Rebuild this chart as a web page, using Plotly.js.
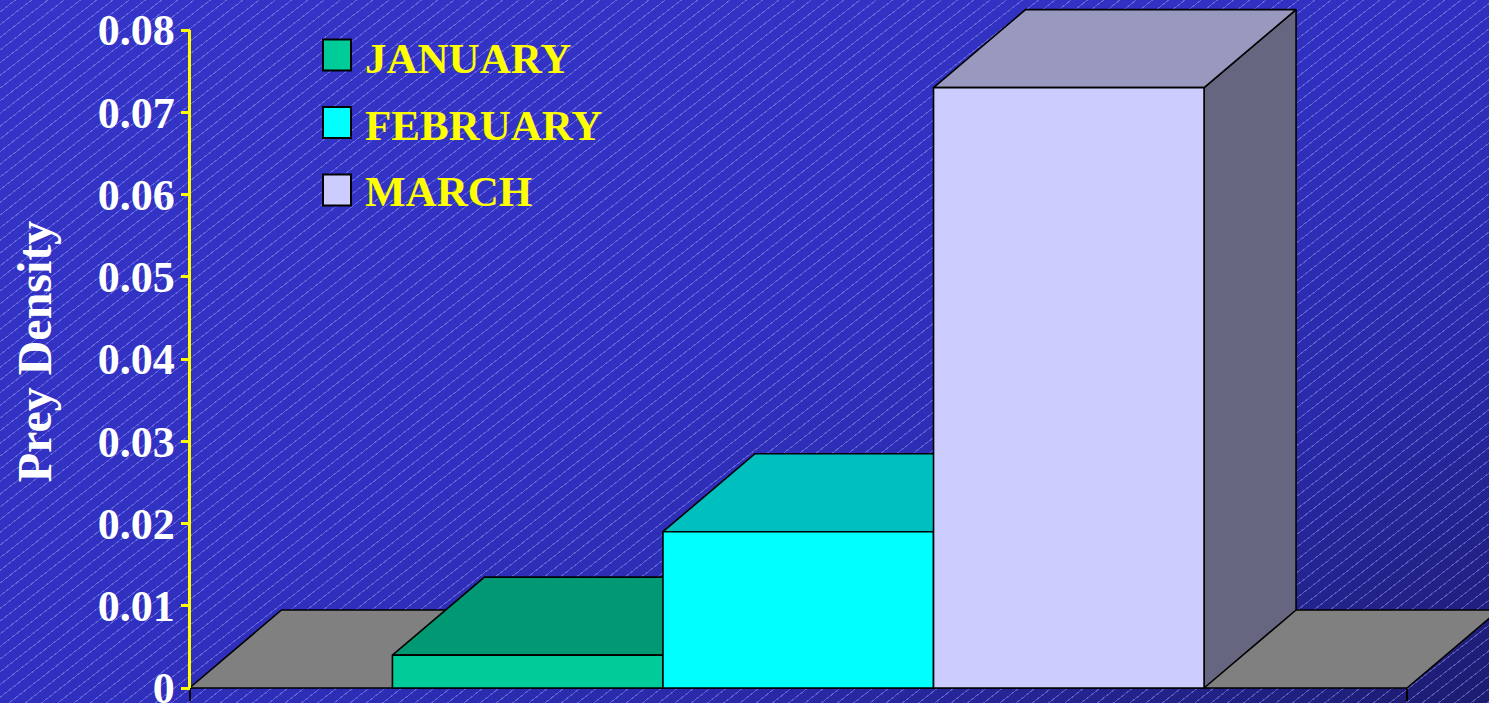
<!DOCTYPE html>
<html>
<head>
<meta charset="utf-8">
<script src="https://cdn.plot.ly/plotly-3.0.1.min.js"></script>
<style>
html, body { margin: 0; padding: 0; overflow: hidden; }
#chart {
  width: 1489px; height: 703px;
  background:
    repeating-linear-gradient(142deg, rgba(0,0,0,0) 0px, rgba(0,0,0,0) 9px, rgba(175,175,255,0.40) 9px, rgba(175,175,255,0.40) 10px),
    linear-gradient(to bottom right, #3434C8 0%, #3030C0 50%, #2929A8 75%, #1C1C70 100%);
}
</style>
</head>
<body>
<div id="chart"></div>
<script>
// ---------------- data ----------------
const months = ['JANUARY', 'FEBRUARY', 'MARCH'];
const preyDensity = [0.004, 0.019, 0.073];
const yTickVals = [0, 0.01, 0.02, 0.03, 0.04, 0.05, 0.06, 0.07, 0.08];
const yTickText = ['0', '0.01', '0.02', '0.03', '0.04', '0.05', '0.06', '0.07', '0.08'];
const yTitle = 'Prey Density';

// ---------------- style / geometry ----------------
const W = 1489, H = 703, L = 183;
const frontColors = ['#00CC99', '#00FFFF', '#CCCCFF'];
const FONT = 'Liberation Serif, Times New Roman, serif';
function shade(hex, f) {
  const n = parseInt(hex.slice(1), 16);
  const r = Math.round(((n >> 16) & 255) * f), g = Math.round(((n >> 8) & 255) * f), b = Math.round((n & 255) * f);
  return 'rgb(' + r + ',' + g + ',' + b + ')';
}
const GAP = 0.75, BAR = 1;
const TOTAL = 2 * GAP + months.length * BAR;
const X0_PX = 189.5, ZERO_PX = 688;
const PX_PER_X = (1407 - X0_PX) / TOTAL;
const PX_PER_Y = (ZERO_PX - 30) / yTickVals[yTickVals.length - 1];
const DX = 92 / PX_PER_X, DY = 78 / PX_PER_Y;

function poly(xs, ys, color) {
  return {
    type: 'scatter', mode: 'lines', x: xs.concat([xs[0]]), y: ys.concat([ys[0]]),
    fill: 'toself', fillcolor: color, line: { color: '#000', width: 1.6 },
    hoverinfo: 'skip', showlegend: false
  };
}

const traces = [];
// floor
traces.push(poly([0, TOTAL, TOTAL + DX, DX], [0, 0, DY, DY], '#808080'));
// bars
months.forEach((m, i) => {
  const v = preyDensity[i];
  const x0 = GAP + i * BAR, x1 = x0 + BAR;
  traces.push(poly([x1, x1 + DX, x1 + DX, x1], [0, DY, v + DY, v], shade(frontColors[i], 0.5)));
  traces.push(poly([x0, x1, x1 + DX, x0 + DX], [v, v, v + DY, v + DY], shade(frontColors[i], 0.75)));
  const front = poly([x0, x1, x1, x0], [0, 0, v, v], frontColors[i]);
  front.name = m;
  traces.push(front);
});

const px2x = p => (p - L) / (W - L);
const py2y = p => 1 - p / H;

const shapes = [
  { type: 'line', xref: 'x', yref: 'y', x0: 0, x1: 0, y0: 0, y1: yTickVals[yTickVals.length - 1],
    line: { color: '#FFFF00', width: 3 } }
];
const annotations = [];
const legSq = [55, 122.5, 190];
const legTx = [58, 125, 191.5];
months.forEach((m, i) => {
  shapes.push({ type: 'rect', xref: 'paper', yref: 'paper',
    x0: px2x(323), x1: px2x(351), y0: py2y(legSq[i] + 15.5), y1: py2y(legSq[i] - 15.5),
    fillcolor: frontColors[i], line: { color: '#000', width: 2 } });
  annotations.push({ xref: 'paper', yref: 'paper', x: px2x(363), y: py2y(legTx[i]),
    xanchor: 'left', yanchor: 'middle', showarrow: false, text: m,
    font: { family: FONT, size: 43, color: '#FFFF00', weight: 'bold' } });
});

const layout = {
  width: W, height: H,
  margin: { l: L, r: 0, t: 0, b: 0 },
  paper_bgcolor: 'rgba(0,0,0,0)', plot_bgcolor: 'rgba(0,0,0,0)',
  showlegend: false,
  xaxis: {
    range: [(L - X0_PX) / PX_PER_X, (W - X0_PX) / PX_PER_X],
    anchor: 'free', position: (H - ZERO_PX) / H,
    tickvals: [0, TOTAL], ticks: 'outside', ticklen: 12, tickwidth: 2, tickcolor: '#000',
    showticklabels: false, showgrid: false, zeroline: false, showline: false
  },
  yaxis: {
    range: [-(H - ZERO_PX) / PX_PER_Y, ZERO_PX / PX_PER_Y],
    anchor: 'free', position: (X0_PX - L) / (W - L),
    tickvals: yTickVals, ticktext: yTickText,
    ticks: 'outside', ticklen: 9, tickwidth: 3, tickcolor: '#FFFF00',
    ticklabelstandoff: -3, ticklabeloverflow: 'allow',
    showgrid: false, zeroline: false, showline: false,
    tickfont: { family: FONT, size: 44, color: '#FFFFFF', weight: 'bold' },
    title: { text: yTitle, standoff: 29, font: { family: FONT, size: 48, color: '#FFFFFF', weight: 'bold' } }
  },
  shapes: shapes,
  annotations: annotations
};

Plotly.newPlot('chart', traces, layout, { displayModeBar: false, staticPlot: true });
</script>
</body>
</html>
